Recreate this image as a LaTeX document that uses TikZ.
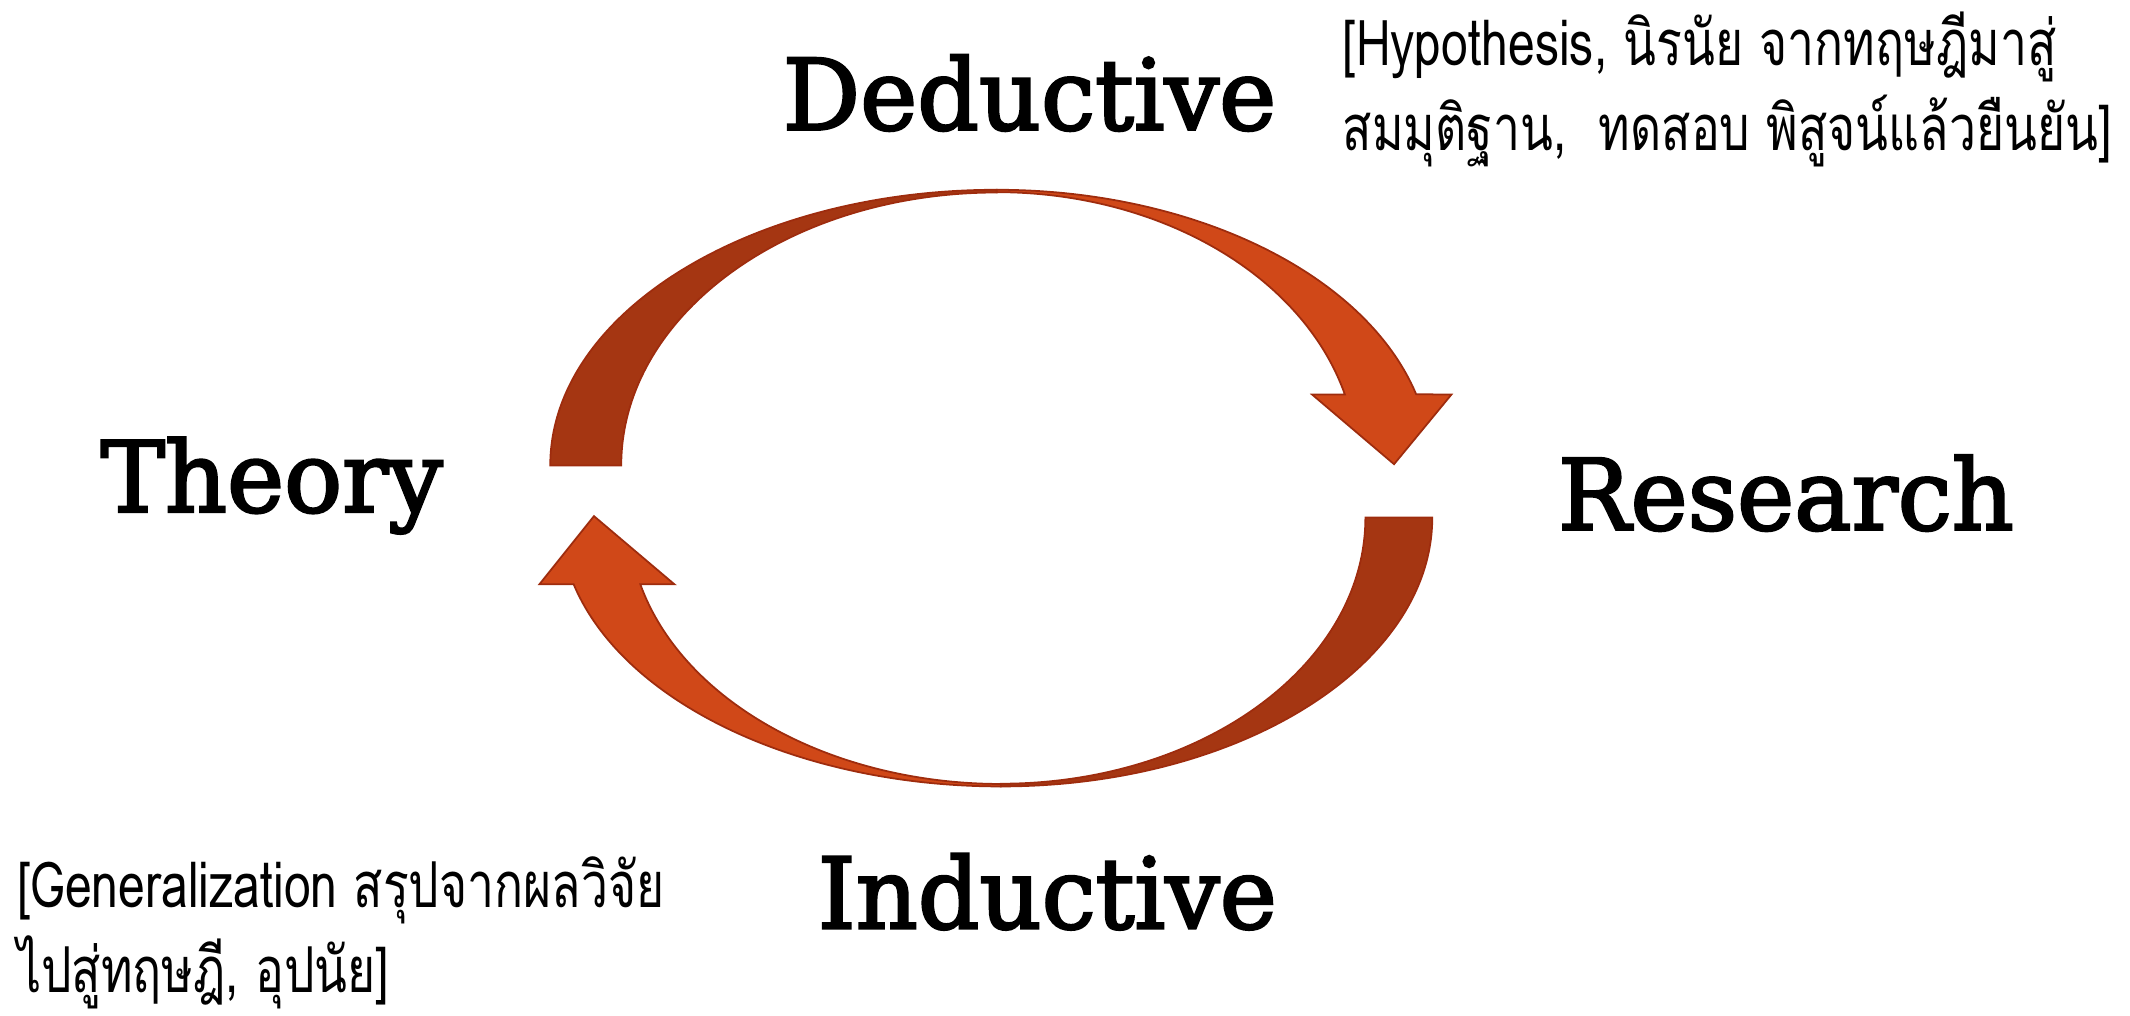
\documentclass[tikz,border=0pt]{standalone}
\usepackage{fontspec}
\usepackage{xcolor}
\newfontfamily\thaifont[Script=Thai,FakeStretch=0.76]{Loma}
\newfontfamily\slabfont[FakeBold=2.5,FakeStretch=0.98]{DejaVu Serif}
\definecolor{arrowdark}{RGB}{165,54,18}
\definecolor{arrowlight}{RGB}{208,72,24}
\definecolor{arrowedge}{RGB}{158,44,14}
\tikzset{
  word/.style={anchor=base, inner sep=0pt, font=\slabfont\fontsize{28}{34}\selectfont},
  note/.style={anchor=base west, inner sep=0pt, font=\thaifont\fontsize{18}{24}\selectfont},
  back/.style={fill=arrowdark, draw=arrowedge, line width=0.5pt},
  front/.style={fill=arrowlight, draw=arrowedge, line width=0.5pt}
}
\begin{document}
\begin{tikzpicture}[x=0.01365cm, y=0.01365cm]
  \useasboundingbox (0,0) rectangle (1560,744);

  \draw[back] (403,403) arc[start angle=180, end angle=90, x radius=327, y radius=202]
    -- (730,603) arc[start angle=90, end angle=180, x radius=275, y radius=200] -- cycle;
  \draw[front] (730,605) arc[start angle=90, end angle=15, x radius=318, y radius=202]
    -- (1063,455) -- (1021,404) -- (961,455)
    -- (985,455) arc[start angle=15, end angle=90, x radius=264, y radius=200] -- cycle;

  \draw[back] (1049,365) arc[start angle=0, end angle=-90, x radius=316, y radius=197]
    -- (733,170) arc[start angle=-90, end angle=0, x radius=267, y radius=195] -- cycle;
  \draw[front] (733,168) arc[start angle=270, end angle=194.4, x radius=323, y radius=197]
    -- (395,316) -- (435,366) -- (494,316)
    -- (469,316) arc[start angle=194.5, end angle=270, x radius=273, y radius=195] -- cycle;

  \node[word] (deductive) at (754,649) {Deductive};
  \node[word] (theory) at (199,369) {Theory};
  \node[word] (research) at (1308,356) {Research};
  \node[word] (inductive) at (767,64) {Inductive};

  \node[note] (hypo1) at (983,696) {[Hypothesis, นิรนัย จากทฤษฎีมาสู่};
  \node[note] (hypo2) at (983,634) {สมมุติฐาน,\ \ ทดสอบ พิสูจน์แล้วยืนยัน]};
  \node[note] (gen1) at (12,79) {[Generalization สรุปจากผลวิจัย};
  \node[note] (gen2) at (12,17) {ไปสู่ทฤษฎี, อุปนัย]};
\end{tikzpicture}
\end{document}
